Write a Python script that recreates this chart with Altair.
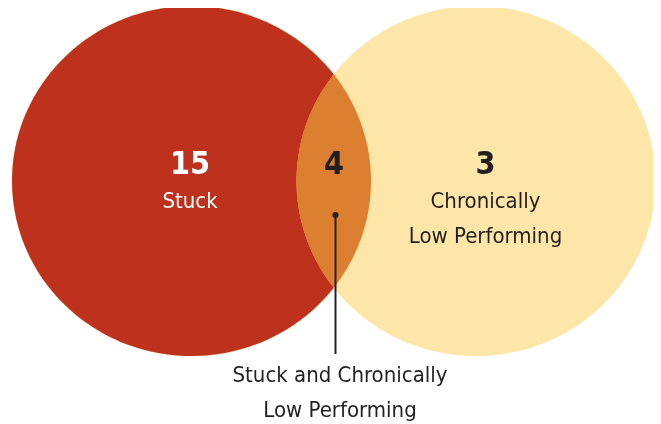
import altair as alt
import pandas as pd

# ---- data ----
set_names = ["Stuck", "Chronically Low Performing"]
region_counts = [15, 4, 3]
region_labels = [["Stuck"], [], ["Chronically", "Low Performing"]]
overlap_label = ["Stuck and Chronically", "Low Performing"]

# ---- layout (screen px) ----
W, H = 645, 416
XD = [8, 8 + W]
YD = [8 + H, 8]
circle_cx = [191.5, 476]
circle_cy = 181
RX = 179.5
ellipse = "M -1 0 A 1 0.975 0 1 1 1 0 A 1 0.975 0 1 1 -1 0 Z"
size_ = (2 * RX) ** 2

RED = "#BE311C"
ORANGE = "#DD7F31"
YELLOW = "#FEE5A8"
DARK = "#231F20"
FONT = "Liberation Sans Narrow, DejaVu Sans Condensed, Roboto, sans-serif"

xs = alt.Scale(domain=XD)
ys = alt.Scale(domain=YD)

def X(f="x"):
    return alt.X(f"{f}:Q", scale=xs, axis=None)

def Y(f="y"):
    return alt.Y(f"{f}:Q", scale=ys, axis=None)

left = pd.DataFrame({"x": [circle_cx[0]], "y": [circle_cy], "set": [set_names[0]]})
right = pd.DataFrame({"x": [circle_cx[1]], "y": [circle_cy], "set": [set_names[1]]})

c_left = alt.Chart(left).mark_point(
    shape=ellipse, filled=True, fill=RED, opacity=1, strokeWidth=0, size=size_
).encode(x=X(), y=Y())
c_right = alt.Chart(right).mark_point(
    shape=ellipse, filled=True, fill=YELLOW, opacity=1, strokeWidth=0, size=size_
).encode(x=X(), y=Y())
c_lens = alt.Chart(left).mark_point(
    shape=ellipse, filled=True, fill=ORANGE, opacity=1, strokeWidth=0, size=size_,
    blend="darken"
).encode(x=X(), y=Y())

# counts
count_x = [190, 334, 485.5]
count_colors = ["white", DARK, DARK]
counts_df = pd.DataFrame({
    "x": count_x, "y": [174] * 3,
    "t": [str(v) for v in region_counts], "c": count_colors,
})
t_counts = alt.Chart(counts_df).mark_text(
    font=FONT, fontSize=32, fontWeight="bold", baseline="alphabetic", align="center"
).encode(x=X(), y=Y(), text="t:N", color=alt.Color("c:N", scale=None))

rows = []
for i, labs in enumerate(region_labels):
    for j, lab in enumerate(labs):
        rows.append({"x": count_x[i], "y": 208 + 35 * j, "t": lab, "c": count_colors[i]})
rows.append({"x": 340, "y": 382, "t": overlap_label[0], "c": DARK})
rows.append({"x": 340, "y": 416.5, "t": overlap_label[1], "c": DARK})
labels_df = pd.DataFrame(rows)
t_labels = alt.Chart(labels_df).mark_text(
    font=FONT, fontSize=22, baseline="alphabetic", align="center"
).encode(x=X(), y=Y(), text="t:N", color=alt.Color("c:N", scale=None))

# leader line and dot
lead = pd.DataFrame({"x": [335.5], "y": [215], "y2": [354]})
rule = alt.Chart(lead).mark_rule(color=DARK, strokeWidth=2).encode(
    x=X(), y=Y(), y2="y2:Q"
)
dot = alt.Chart(lead).mark_circle(color=DARK, opacity=1, size=36).encode(x=X(), y=Y())

chart = alt.layer(c_left, c_right, c_lens, rule, dot, t_counts, t_labels).properties(
    width=W, height=H, padding=0, autosize="none"
).configure_view(strokeWidth=0)

chart.save("out.html", embed_options={"renderer": "svg", "actions": False})
